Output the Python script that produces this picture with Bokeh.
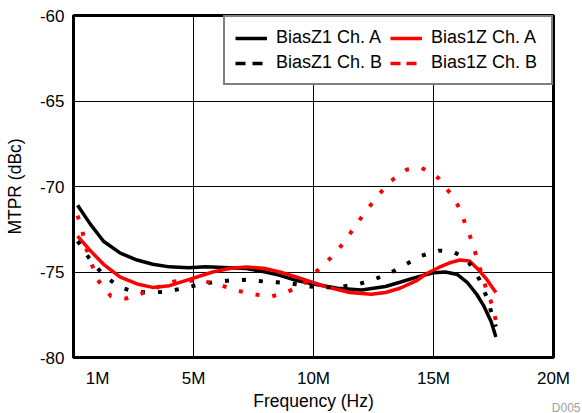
from bokeh.plotting import figure
from bokeh.models import FixedTicker, Legend, LegendItem, Label, Range1d
from bokeh.embed import file_html
from bokeh.resources import INLINE

# ---- data (frequency in MHz, MTPR in dBc) ----
z1a_f = [0.17, 0.7, 1.25, 1.95, 2.65, 3.3, 4.0, 4.8, 5.5, 6.5, 7.2, 8.0, 8.6, 9.3, 10.0,
         11.0, 12.0, 13.0, 13.6, 14.3, 15.0, 15.5, 16.0, 16.4, 16.8, 17.1, 17.4, 17.6]
z1a_db = [-71.1, -72.2, -73.2, -73.9, -74.3, -74.55, -74.7, -74.75, -74.7, -74.75, -74.8, -75.0,
          -75.2, -75.5, -75.7, -75.95, -76.05, -75.85, -75.6, -75.3, -75.05, -75.0, -75.15,
          -75.6, -76.3, -77.0, -77.9, -78.8]

z1b_f = [0.17, 0.37, 0.63, 1.2, 1.87, 2.5, 3.2, 3.9, 4.55, 5.2, 5.8, 6.5, 7.2, 7.9, 8.5, 9.2,
         9.8, 10.5, 11.2, 11.9, 12.5, 13.2, 13.85, 14.5, 15.2, 15.8, 16.2, 16.5, 16.9, 17.2,
         17.4, 17.6]
z1b_db = [-73.2, -73.55, -74.15, -75.1, -75.85, -76.15, -76.2, -76.15, -75.95, -75.75, -75.6,
          -75.5, -75.45, -75.55, -75.6, -75.7, -75.85, -75.9, -75.85, -75.7, -75.45, -75.05,
          -74.55, -74.05, -73.75, -73.8, -74.1, -74.5, -75.4, -76.4, -77.3, -78.2]

b1za_f = [0.17, 0.7, 1.25, 1.95, 2.65, 3.3, 4.0, 4.8, 5.8, 6.5, 7.2, 8.0, 8.6, 9.3, 9.85, 10.5,
          11.5, 12.4, 13.0, 13.6, 14.3, 14.7, 15.2, 15.7, 16.1, 16.5, 16.9, 17.2, 17.4, 17.6]
b1za_db = [-72.9, -73.75, -74.55, -75.3, -75.7, -75.9, -75.8, -75.45, -75.0, -74.8, -74.7,
           -74.8, -75.0, -75.3, -75.55, -75.85, -76.2, -76.3, -76.2, -75.95, -75.5, -75.1,
           -74.75, -74.45, -74.3, -74.35, -74.9, -75.4, -75.8, -76.2]

b1zb_f = [0.17, 0.37, 0.5, 0.75, 1.0, 1.55, 2.2, 2.85, 3.5, 4.2, 4.9, 5.5, 6.2, 6.85, 7.5, 8.2,
          8.85, 9.55, 10.1, 10.7, 11.2, 11.7, 12.15, 12.65, 13.2, 13.9, 14.5, 15.2, 15.7, 16.1,
          16.35, 16.6, 16.8, 17.0, 17.2, 17.45, 17.6]
b1zb_db = [-71.7, -72.6, -73.5, -74.5, -75.45, -76.4, -76.55, -76.25, -75.9, -75.55, -75.5,
           -75.55, -75.8, -76.1, -76.3, -76.45, -76.2, -75.75, -75.0, -74.2, -73.4, -72.4,
           -71.5, -70.6, -69.7, -69.0, -68.9, -69.5, -70.4, -71.3, -72.3, -73.2, -74.15,
           -75.1, -76.0, -76.95, -77.85]

x_ticks = [1, 5, 10, 15, 20]
x_tick_labels = ["1M", "5M", "10M", "15M", "20M"]
y_ticks = [-80, -75, -70, -65, -60]
y_tick_labels = ["-80", "-75", "-70", "-65", "-60"]
labels = ["BiasZ1 Ch. A", "BiasZ1 Ch. B", "Bias1Z Ch. A", "Bias1Z Ch. B"]

FONT = "Liberation Sans"

p = figure(width=582, height=413, output_backend="svg", toolbar_location=None,
           x_range=Range1d(0, 20), y_range=Range1d(-80, -60),
           min_border_left=73, min_border_right=28, min_border_top=15, min_border_bottom=56)
p.background_fill_color = "white"
p.border_fill_color = "white"
p.outline_line_color = "black"
p.outline_line_width = 3

# axes
p.xaxis.ticker = FixedTicker(ticks=x_ticks)
p.xaxis.major_label_overrides = dict(zip(x_ticks, x_tick_labels))
p.yaxis.ticker = FixedTicker(ticks=y_ticks)
p.yaxis.major_label_overrides = dict(zip(y_ticks, y_tick_labels))
for ax in (p.xaxis[0], p.yaxis[0]):
    ax.axis_line_color = None
    ax.major_tick_line_color = None
    ax.minor_tick_line_color = None
    ax.major_tick_out = 0
    ax.major_tick_in = 0
    ax.major_label_text_font = FONT
    ax.major_label_text_font_size = "17px"
    ax.major_label_text_color = "black"
    ax.axis_label_text_font = FONT
    ax.axis_label_text_font_size = "17.5px"
    ax.axis_label_text_font_style = "normal"
    ax.axis_label_text_color = "black"
p.xaxis.axis_label = "Frequency (Hz)"
p.yaxis.axis_label = "MTPR (dBc)"
p.xaxis.major_label_standoff = 11
p.xaxis.axis_label_standoff = 0
p.yaxis.major_label_standoff = 9
p.yaxis.axis_label_standoff = 12

# grid
p.xgrid.ticker = FixedTicker(ticks=[5, 10, 15])
p.ygrid.ticker = FixedTicker(ticks=[-75, -70, -65])
p.grid.grid_line_color = "black"
p.grid.grid_line_width = 1

# data lines
p.line(z1a_f, z1a_db, line_color="black", line_width=3.5)
p.line(b1za_f, b1za_db, line_color="#ff0000", line_width=3.5)
p.line(z1b_f, z1b_db, line_color="black", line_width=4, line_dash="4 13")
p.line(b1zb_f, b1zb_db, line_color="#ff0000", line_width=4, line_dash="4 13")

# legend glyph proxies (placed outside the visible ranges)
off_x = [-6, -5]
off_y = [-95, -95]
lg1 = p.line(off_x, off_y, line_color="black", line_width=3.5)
lg2 = p.line(off_x, off_y, line_color="black", line_width=3.5, line_dash="10 7")
lg3 = p.line(off_x, off_y, line_color="#ff0000", line_width=3.5)
lg4 = p.line(off_x, off_y, line_color="#ff0000", line_width=3.5, line_dash="10 6")

legend = Legend(items=[LegendItem(label=labels[0], renderers=[lg1]),
                       LegendItem(label=labels[1], renderers=[lg2]),
                       LegendItem(label=labels[2], renderers=[lg3]),
                       LegendItem(label=labels[3], renderers=[lg4])],
                location="top_right", orientation="vertical", nrows=2,
                margin=0, padding=10, spacing=4,
                glyph_width=32, glyph_height=18, label_height=18, label_width=110,
                label_standoff=9,
                label_text_font=FONT, label_text_font_size="18px", label_text_color="black",
                border_line_color="black", border_line_width=2,
                background_fill_color="white", background_fill_alpha=1)
p.add_layout(legend, "center")

p.add_layout(Label(x=27, y=-50, x_units="screen", y_units="screen", text="D005",
                   text_align="right", text_baseline="alphabetic", text_font=FONT,
                   text_font_size="12px", text_color="#a0a0a0"), "right")

open("out.html", "w").write(file_html(p, INLINE))
